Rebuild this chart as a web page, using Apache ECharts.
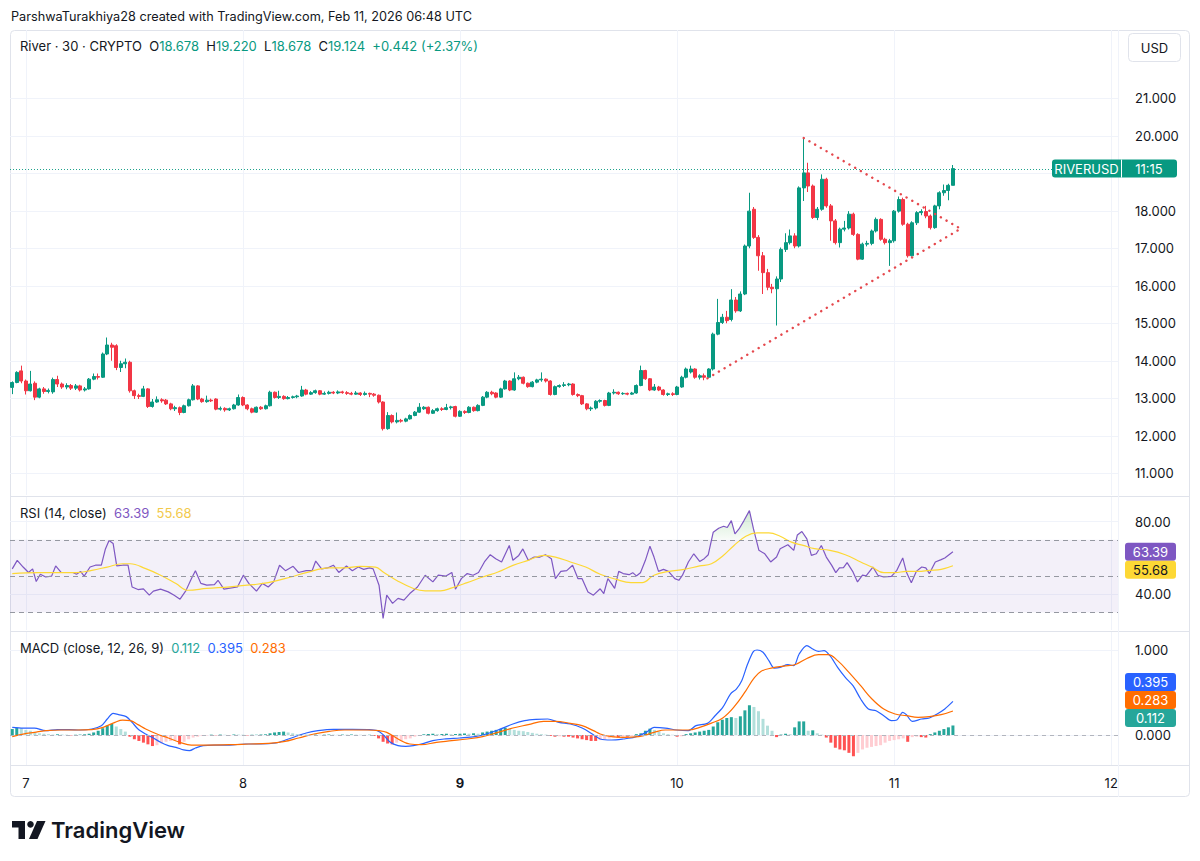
<!DOCTYPE html>
<html>
<head>
<meta charset="utf-8">
<script src="https://cdn.jsdelivr.net/npm/echarts@6/dist/echarts.min.js"></script>
<style>
html,body{margin:0;padding:0;background:#fff;}
#main{width:1200px;height:861px;}
</style>
</head>
<body>
<div id="main"></div>
<script>
// x values are 30 minute bar numbers, bar 3 = Feb 7 00:00 UTC
var dayTicks = [3, 51, 99, 147, 195, 243];
var dayLabels = ['7', '8', '9', '10', '11', '12'];
var boldDay = '9';
var priceLines = [11, 12, 13, 14, 15, 16, 17, 18, 19, 20, 21];
var priceLabels = [11, 12, 13, 14, 15, 16, 17, 18, 20, 21]; // 19 sits under the symbol tag
var rsiTicks = [40, 80];
var macdTicks = [0, 1];

// [open, close, low, high]
var candles = [
[13.29,13.42,13.11,13.45],[13.42,13.69,13.40,13.72],[13.73,13.46,13.40,13.87],[13.46,13.20,13.10,13.50],[13.20,13.38,13.18,13.73],
[13.40,13.03,12.95,13.45],[13.03,13.25,13.00,13.28],[13.25,13.18,13.12,13.30],[13.18,13.21,13.13,13.26],[13.17,13.50,13.12,13.55],
[13.50,13.38,13.30,13.60],[13.38,13.30,13.25,13.42],[13.30,13.34,13.24,13.40],[13.34,13.27,13.22,13.38],[13.27,13.33,13.22,13.38],
[13.33,13.22,13.18,13.36],[13.22,13.25,13.18,13.30],[13.25,13.51,13.23,13.54],[13.51,13.58,13.48,13.66],[13.58,13.56,13.50,13.66],
[13.56,14.18,13.54,14.22],[14.18,14.42,14.15,14.62],[14.42,14.36,14.00,14.48],[14.40,13.82,13.75,14.44],[13.82,13.92,13.70,14.00],
[13.92,13.96,13.80,14.06],[13.96,13.20,13.15,14.00],[13.20,13.07,12.98,13.23],[13.07,13.05,12.98,13.12],[13.05,13.25,13.03,13.33],
[13.25,12.78,12.74,13.27],[12.78,12.90,12.75,12.98],[12.90,12.96,12.88,13.05],[12.96,12.93,12.88,13.00],[12.95,12.85,12.82,12.98],
[12.85,12.72,12.68,12.88],[12.72,12.75,12.66,12.80],[12.75,12.62,12.55,12.78],[12.62,12.80,12.60,12.83],[12.80,12.96,12.78,12.99],
[12.96,13.33,12.94,13.38],[13.33,12.98,12.95,13.35],[12.98,12.91,12.88,13.01],[12.91,12.95,12.88,13.07],[12.95,12.93,12.90,12.99],
[12.98,12.71,12.68,13.00],[12.71,12.73,12.67,12.78],[12.73,12.69,12.64,12.76],[12.69,12.72,12.66,12.75],[12.72,12.82,12.70,12.85],
[12.82,13.02,12.80,13.10],[13.02,12.82,12.79,13.05],[12.82,12.72,12.68,12.84],[12.72,12.63,12.60,12.75],[12.63,12.76,12.61,12.78],
[12.76,12.72,12.69,12.79],[12.72,12.80,12.70,12.83],[12.80,13.16,12.78,13.20],[13.16,13.02,12.99,13.18],[13.02,13.05,12.98,13.20],
[13.05,12.99,12.96,13.08],[12.99,13.02,12.97,13.06],[13.02,13.04,12.99,13.07],[13.04,13.06,13.00,13.09],[13.06,13.22,13.04,13.33],
[13.22,13.11,13.08,13.25],[13.11,13.15,13.09,13.19],[13.15,13.20,13.12,13.23],[13.20,13.11,13.08,13.22],[13.11,13.13,13.09,13.18],
[13.13,13.16,13.10,13.20],[13.16,13.14,13.11,13.19],[13.14,13.17,13.11,13.21],[13.17,13.15,13.12,13.20],[13.15,13.13,13.09,13.19],
[13.13,13.11,13.08,13.17],[13.11,13.14,13.09,13.19],[13.14,13.10,13.06,13.16],[13.10,13.13,13.07,13.18],[13.13,13.11,13.03,13.15],
[13.11,13.08,13.04,13.14],[13.08,12.90,12.86,13.10],[12.90,12.19,12.14,12.92],[12.19,12.54,12.16,12.63],[12.54,12.37,12.33,12.57],
[12.37,12.41,12.33,12.62],[12.41,12.39,12.35,12.45],[12.39,12.45,12.36,12.48],[12.45,12.54,12.43,12.57],[12.54,12.63,12.52,12.66],
[12.63,12.76,12.61,12.87],[12.72,12.76,12.69,12.79],[12.76,12.60,12.57,12.78],[12.60,12.67,12.58,12.71],[12.67,12.72,12.64,12.75],
[12.72,12.70,12.66,12.76],[12.70,12.75,12.68,12.85],[12.75,12.77,12.70,12.80],[12.78,12.52,12.49,12.80],[12.52,12.65,12.50,12.68],
[12.65,12.62,12.58,12.68],[12.62,12.76,12.60,12.79],[12.76,12.67,12.64,12.78],[12.67,12.81,12.65,12.84],[12.81,13.03,12.79,13.06],
[13.03,13.16,13.00,13.19],[13.16,13.12,13.08,13.20],[13.14,13.03,13.00,13.16],[13.03,13.25,13.01,13.28],[13.25,13.46,13.23,13.49],
[13.46,13.22,13.19,13.48],[13.22,13.52,13.20,13.69],[13.52,13.56,13.48,13.62],[13.56,13.40,13.37,13.58],[13.40,13.31,13.28,13.42],
[13.31,13.43,13.29,13.46],[13.43,13.49,13.40,13.52],[13.49,13.51,13.44,13.69],[13.51,13.46,13.42,13.53],[13.46,13.10,13.07,13.48],
[13.10,13.31,13.08,13.34],[13.31,13.34,13.28,13.37],[13.34,13.36,13.30,13.43],[13.36,13.38,13.32,13.41],[13.38,13.10,13.07,13.40],
[13.10,13.07,13.03,13.13],[13.07,12.85,12.82,13.09],[12.85,12.72,12.68,12.87],[12.72,12.74,12.66,12.78],[12.74,12.92,12.70,12.95],
[12.92,12.94,12.88,12.97],[12.94,12.81,12.78,12.96],[12.81,13.14,12.79,13.17],[13.14,13.16,13.10,13.24],[13.16,13.12,13.09,13.18],
[13.12,13.13,13.09,13.16],[13.13,13.11,13.08,13.15],[13.11,13.14,13.09,13.17],[13.14,13.34,13.12,13.37],[13.34,13.74,13.32,13.87],
[13.74,13.52,13.49,13.76],[13.52,13.22,13.19,13.54],[13.22,13.30,13.20,13.38],[13.30,13.22,13.19,13.33],[13.22,13.10,13.07,13.24],
[13.10,13.12,13.06,13.15],[13.12,13.10,13.06,13.16],[13.10,13.30,13.08,13.33],[13.30,13.56,13.28,13.60],[13.56,13.78,13.53,13.82],
[13.70,13.78,13.66,13.87],[13.78,13.56,13.52,13.80],[13.56,13.60,13.50,13.64],[13.60,13.56,13.48,13.66],[13.56,13.78,13.54,13.80],
[13.78,14.71,13.74,14.75],[14.71,15.02,14.68,15.65],[15.02,15.16,14.98,15.25],[15.16,15.07,15.00,15.33],[15.10,15.62,15.05,15.91],
[15.62,15.33,15.28,15.70],[15.33,15.78,15.30,15.85],[15.78,17.06,15.75,17.10],[17.06,17.99,17.00,18.48],[18.04,17.29,17.25,18.10],
[17.29,16.80,16.40,17.35],[16.80,16.35,15.78,16.90],[16.35,15.96,15.88,16.45],[15.96,15.92,15.80,16.05],[15.92,16.18,14.94,16.25],
[16.18,16.97,16.10,17.02],[16.97,17.15,16.90,17.40],[17.15,17.33,17.10,17.50],[17.33,17.06,17.00,17.40],[17.06,18.61,17.02,18.65],
[18.61,19.01,18.26,19.94],[19.01,18.66,18.50,19.28],[18.66,17.82,17.78,18.70],[17.82,18.04,17.75,18.10],[18.04,18.84,18.00,18.97],
[18.84,18.13,18.08,18.88],[18.13,17.73,17.20,18.18],[17.73,17.15,17.10,17.78],[17.15,17.51,17.02,17.55],[17.51,17.54,17.45,17.73],
[17.54,17.91,17.50,17.99],[17.91,17.37,17.33,17.95],[17.37,16.71,16.68,17.40],[16.71,17.11,16.69,17.15],[17.11,17.13,17.05,17.20],
[17.13,17.46,17.08,17.50],[17.46,17.77,17.42,17.82],[17.77,17.24,17.20,17.80],[17.24,17.15,17.10,17.28],[17.15,17.20,16.53,17.25],
[17.20,17.99,17.15,18.02],[17.99,18.30,17.95,18.38],[18.30,17.64,17.60,18.35],[17.64,16.80,16.75,17.68],[16.80,17.68,16.78,17.72],
[17.68,17.95,17.62,17.99],[17.95,17.98,17.88,18.04],[17.98,17.86,17.80,18.13],[17.86,17.55,17.50,17.90],[17.55,18.13,17.52,18.16],
[18.13,18.48,18.04,18.52],[18.48,18.54,18.40,18.70],[18.54,18.678,18.28,18.72],[18.678,19.124,18.678,19.22]
];

// drawn triangle: start of upper line, apex, start of lower line
var triangle = [[175, 19.94], [209.7, 17.52], [153.7, 13.53]];

var rsi = [
[0,54],[1.1,58.7],[2.4,55],[3.6,52],[4.5,54],[5.3,47],[6.2,51],[7.4,49.5],[8.7,50],[9.6,55.6],
[10.8,52],[12.1,52],[13.4,52],[14.2,51],[15.1,52.6],[15.9,50],[17.2,55],[18.4,56],[19.7,56],[20.6,65],
[21.4,69.6],[22.3,68],[23.1,55.6],[24.4,56],[25.6,56],[26.5,44],[27.8,42.6],[29,43],[30.3,39.5],[31.2,41.7],
[32.8,42.8],[34.5,41.3],[35.8,39.5],[37.1,37.3],[38.4,42],[39.6,48.6],[40.5,53],[41.7,46],[43,45],[44.7,45.3],
[45.5,47.7],[46.8,42.8],[48.5,43.5],[49.8,44],[51.1,50.5],[52.3,46],[54,41.7],[55.3,46],[56.6,44],[57.8,46.8],
[59.1,56],[60.4,53],[62.1,55.4],[63.3,52],[65,53],[66.3,53],[67.1,58.3],[68.4,54],[69.7,54.5],[71,56],
[72.2,52],[73.9,55.6],[75.2,53],[76.5,55],[77.7,53.7],[79,54.5],[79.8,54],[81.1,45],[82,26.7],[82.8,39.5],
[84.1,35],[85.3,37.7],[86.6,36.8],[87.9,40.4],[89.6,44],[91.3,50.5],[93,46.8],[94.2,50.5],[95.9,50],[97.2,52],
[98,42.8],[99.3,48.6],[100.6,51.4],[101.9,50.5],[103.1,52],[104.4,57.8],[105.7,61.8],[106.9,59.6],[108.2,57.8],[109.9,66.9],
[110.7,58.7],[112,61.4],[112.9,65],[114.1,58.7],[115.4,60.5],[116.7,60.5],[117.9,61.8],[119.2,59.6],[120.1,48.6],[121.3,52.6],
[122.6,53],[123.9,56],[125.1,48.6],[126,48.6],[127.3,41.3],[128.5,39.5],[130,43],[130.8,40.4],[131.7,48.6],[132.5,45.9],
[133.2,43.2],[134.1,52.6],[135.1,51.4],[136.4,50.8],[137.2,51.9],[138,50.1],[138.9,51.9],[140,58.7],[141,66.5],[141.9,60.5],
[142.9,52.6],[144,53.7],[145.1,52.6],[146.5,48.6],[147.4,47.7],[148.2,50.5],[149.5,57.8],[150.7,62.3],[152,58.1],[153,59.6],
[153.9,61.8],[155,74.2],[156.2,76.4],[157.3,77.5],[158.1,76.8],[159,80.6],[159.8,73.3],[160.7,76],[161.8,80.6],[163,86.1],
[163.9,76],[165.1,64.2],[166.4,62.3],[167.7,57.8],[169,60.5],[169.8,65.1],[171.5,67.3],[172.8,64.2],[173.6,72.7],[174.6,74.6],
[175.7,70.5],[176.7,61.4],[177.8,62.3],[178.9,66.9],[180,60.5],[181.2,55.9],[182.1,51.9],[182.9,54.5],[183.8,54.7],[184.6,57.4],
[185.9,52.3],[186.9,46.8],[188,50.5],[188.8,50.1],[190.3,55],[191.4,50.5],[192.7,49.5],[194.4,49.9],[195.6,53.2],[196.9,60],
[197.7,52.3],[198.8,46.4],[199.9,52.6],[201.1,55],[202,54.5],[202.8,51.4],[204.1,57.8],[205.4,59.1],[206.2,60],[208,63.39]
];

var rsiMa = [
[0,51.4],[5.7,51.9],[14.2,51.9],[17.6,53.2],[21,55],[24.4,56.8],[26.1,56.8],[29.5,54.1],[32.8,50.5],[36.2,45.9],
[38.8,42.2],[43,43.2],[48.1,44.1],[53.2,45.3],[56.6,46.4],[61.6,49.5],[65,51.9],[70.1,54.5],[73.5,54.5],[76.9,55.4],
[80.3,55],[82,52.3],[85.3,47.2],[88.7,43.2],[91.3,41.9],[94.7,41.9],[97.2,43.5],[100.6,46.4],[104,49.5],[107.4,52.3],
[110.7,55.9],[114.1,58.7],[117.5,61.4],[120.1,60.5],[123.4,57.8],[126.8,55],[130,51],[133.4,48.3],[136.8,46.4],[139.3,46.4],
[141.9,50.5],[145.2,52.6],[148.6,53.7],[152,55.6],[154.6,56.8],[157.1,61.1],[159.6,66.9],[162.2,72],[164.7,73.8],[167.3,73.8],
[169.8,72],[172.3,68.7],[174.9,66.9],[177.4,65.1],[180.8,64.2],[184.2,61.8],[187.6,57.8],[190.1,55],[192.7,51.9],[195.2,51.9],
[197.7,52.6],[200.3,52.6],[202.8,53.2],[205.4,53.7],[208,55.68]
];

var macd = [
[0,0.09],[2.4,0.082],[4.9,0.082],[7.4,0.051],[10,0.063],[12.5,0.063],[15.1,0.059],[17.6,0.071],[19.7,0.11],[21,0.188],
[22.3,0.255],[23.5,0.239],[25.2,0.216],[26.5,0.149],[27.8,0.071],[29.5,0.012],[31.2,-0.035],[32.8,-0.086],[34.5,-0.125],[36.2,-0.145],
[37.9,-0.176],[39.2,-0.184],[40.5,-0.153],[42.2,-0.125],[44.7,-0.118],[48.1,-0.118],[51.5,-0.106],[54.9,-0.106],[58.3,-0.094],[60,-0.067],
[62.5,-0.02],[65,0.024],[67.6,0.051],[71,0.067],[75.2,0.067],[78.6,0.063],[80.7,0.051],[82,0.004],[83.6,-0.086],[85.3,-0.125],
[87,-0.133],[88.7,-0.125],[90.4,-0.106],[93,-0.067],[95.5,-0.047],[98.9,-0.035],[102.3,-0.02],[104.8,0.012],[107.4,0.059],[110.7,0.129],
[113.3,0.169],[115.8,0.184],[118.4,0.188],[120.9,0.149],[123.4,0.129],[126,0.082],[128.5,0.004],[130,-0.047],[132.5,-0.059],[135.1,-0.047],
[137.6,-0.027],[140.2,0.031],[141.9,0.09],[144.4,0.082],[146.9,0.059],[149.5,0.051],[151.2,0.11],[153.7,0.137],[155.4,0.227],[157.1,0.325],
[158.8,0.482],[160.1,0.541],[161.3,0.639],[162.6,0.835],[163.9,0.984],[164.7,1.0],[166,0.973],[167.3,0.875],[168.5,0.788],[169.8,0.796],
[171.5,0.827],[172.8,0.816],[174,0.953],[175.7,1.051],[177,1.012],[178.3,0.984],[179.5,0.992],[180.8,0.933],[182.5,0.796],[184.2,0.678],
[185.9,0.58],[187.6,0.424],[189.3,0.306],[191,0.286],[192.7,0.227],[194.4,0.169],[195.6,0.176],[196.9,0.267],[197.7,0.239],[199,0.161],
[201.1,0.188],[202.8,0.2],[204.5,0.247],[206.2,0.306],[208,0.395]
];

var signal = [
[0,-0.02],[2.4,0.01],[4.9,0.031],[7.4,0.051],[10.8,0.059],[14.2,0.059],[17.6,0.063],[20.1,0.09],[22.7,0.149],[24.4,0.176],
[26.1,0.169],[27.8,0.122],[29.5,0.071],[32,0.012],[34.5,-0.035],[37.1,-0.086],[39.6,-0.118],[43,-0.118],[48.1,-0.114],[52.3,-0.106],
[56.6,-0.098],[60,-0.078],[63.3,-0.035],[66.7,0.012],[70.1,0.043],[73.5,0.059],[78.6,0.059],[81.1,0.051],[82.8,0.031],[85.3,-0.047],
[87.9,-0.106],[90.4,-0.114],[93.8,-0.086],[97.2,-0.067],[100.6,-0.047],[104,-0.02],[107.4,0.031],[110.7,0.082],[114.1,0.122],[117.5,0.161],
[120.1,0.161],[123.4,0.137],[126,0.11],[128.5,0.051],[130,0.012],[132.5,-0.02],[135.1,-0.027],[138.5,-0.02],[141.9,0.031],[144.4,0.059],
[146.9,0.059],[149.5,0.059],[152,0.09],[154.6,0.14],[157.1,0.2],[159.6,0.33],[162.2,0.52],[163.9,0.66],[165.6,0.75],[168.1,0.79],
[170.6,0.81],[173.2,0.83],[175.7,0.9],[178.3,0.945],[180.4,0.945],[182.5,0.875],[185,0.737],[187.6,0.58],[190.1,0.424],[192.7,0.306],
[195.2,0.247],[197.7,0.227],[200.3,0.208],[202.8,0.216],[205.4,0.239],[208,0.283]
];

var hist = [
0.07,0.085,0.08,0.06,0.05,0.03,0.02,0.015,0.01,0.005,
0.008,0.006,0.004,-0.004,0.003,0.005,0.008,0.015,0.03,0.05,
0.08,0.11,0.13,0.1,0.07,0.04,-0.02,-0.05,-0.07,-0.09,
-0.11,-0.13,-0.12,-0.1,-0.08,-0.07,-0.06,-0.11,-0.08,-0.05,
-0.03,-0.02,-0.01,-0.005,0.004,-0.003,0.005,0.003,-0.004,0.006,
0.005,0.004,-0.004,0.003,0.004,0.006,0.008,0.02,0.03,0.035,
0.04,0.03,0.02,0.01,0.008,0.006,0.004,0.005,0.003,0.004,
0.006,0.004,0.003,0.005,0.004,0.006,0.004,0.003,0.002,0.003,
-0.01,-0.04,-0.08,-0.1,-0.11,-0.09,-0.07,-0.05,-0.04,-0.02,
-0.01,0.008,0.012,0.015,0.01,0.012,0.015,0.01,0.012,0.015,
0.018,0.015,0.02,0.015,0.03,0.04,0.05,0.06,0.07,0.085,
0.075,0.06,0.05,0.045,0.035,0.025,0.015,0.01,0.005,-0.01,
-0.02,-0.015,-0.02,-0.02,-0.03,-0.04,-0.05,-0.06,-0.07,-0.07,
-0.06,-0.05,-0.04,-0.03,-0.03,-0.02,-0.02,-0.01,0.01,0.02,
0.05,0.075,0.06,0.04,0.02,0.01,0.003,-0.02,-0.015,0.01,
0.02,0.03,0.04,0.05,0.06,0.1,0.15,0.18,0.2,0.21,
0.2,0.22,0.29,0.35,0.33,0.28,0.19,0.11,0.05,-0.025,
0.005,0.015,0.01,0.09,0.16,0.16,0.05,0.055,0.02,0.004,
-0.03,-0.09,-0.15,-0.17,-0.18,-0.21,-0.25,-0.21,-0.17,-0.15,
-0.14,-0.13,-0.12,-0.09,-0.07,-0.06,-0.05,-0.04,-0.08,-0.025,
-0.02,-0.025,-0.03,0.01,0.03,0.05,0.07,0.09,0.112
];

var last = {close: 19.124, rsi: 63.39, rsiMa: 55.68, hist: 0.112, macd: 0.395, signal: 0.283};

var FONT = 'Inter, "Noto Sans", sans-serif';
var TXT = '#131722';
var UP = '#089981', DOWN = '#f23645';
var RSI_C = '#7e57c2', MA_C = '#fdd835', MACD_C = '#2962ff', SIG_C = '#ff6d00', HIST_C = '#26a69a';

var chart = echarts.init(document.getElementById('main'), null, {renderer: 'svg'});

function xAxisFor(g) {
  return {
    type: 'value', gridIndex: g, min: -0.5, max: 244.5,
    axisLine: {show: false},
    axisTick: {show: false, customValues: dayTicks},
    axisLabel: {
      show: g === 2, customValues: dayTicks, margin: 11,
      color: TXT, fontSize: 13, fontFamily: FONT,
      formatter: function (v) {
        var lbl = dayLabels[dayTicks.indexOf(Math.round(v))];
        return lbl === boldDay ? '{b|' + lbl + '}' : lbl;
      },
      rich: {b: {fontWeight: 'bold', fontSize: 13, color: TXT, fontFamily: FONT}}
    },
    splitLine: {show: true, lineStyle: {color: '#f0f3fa'}}
  };
}

function yAxisFor(g, min, max, lines, labels, digits) {
  return {
    type: 'value', gridIndex: g, position: 'right', min: min, max: max,
    axisLine: {show: false},
    axisTick: {show: false, customValues: lines},
    axisLabel: {
      customValues: labels, margin: 17, color: TXT, fontSize: 13, fontFamily: FONT,
      formatter: function (v) { return v.toFixed(digits); }
    },
    splitLine: {show: true, lineStyle: {color: '#f0f3fa'}}
  };
}

function legend(top, text, rich) {
  var base = {fontSize: 13, fontFamily: FONT};
  Object.keys(rich).forEach(function (k) { rich[k] = Object.assign({}, base, rich[k]); });
  return {left: 20, top: top, padding: 0, text: text,
    textStyle: {fontSize: 13, fontWeight: 'normal', fontFamily: FONT, color: TXT, rich: rich}};
}

var priceData = candles.map(function (c, i) { return [i, c[0], c[1], c[2], c[3]]; });
var histData = hist.map(function (v, i) { return [i, v]; });

var option = {
  animation: false,
  backgroundColor: '#fff',
  title: [
    {left: 11, top: 10, padding: 0, text: 'ParshwaTurakhiya28 created with TradingView.com, Feb 11, 2026 06:48 UTC',
      textStyle: {fontSize: 12.7, fontWeight: 'normal', fontFamily: FONT, color: TXT}},
    legend(39, '{t|River · 30 · CRYPTO}  {t|O}{g|18.678}  {t|H}{g|19.220}  {t|L}{g|18.678}  {t|C}{g|19.124}  {g|+0.442 (+2.37%)}',
      {t: {color: TXT}, g: {color: UP}}),
    legend(506, '{t|RSI (14, close)}  {p|63.39}  {y|55.68}',
      {t: {color: TXT}, p: {color: RSI_C}, y: {color: '#f2c94c'}}),
    legend(641, '{t|MACD (close, 12, 26, 9)}  {h|0.112}  {m|0.395}  {s|0.283}',
      {t: {color: TXT}, h: {color: HIST_C}, m: {color: MACD_C}, s: {color: SIG_C}})
  ],
  grid: [
    {left: 10, right: 82, top: 30, height: 465},
    {left: 10, right: 82, top: 497, height: 133},
    {left: 10, right: 82, top: 632, height: 133}
  ],
  xAxis: [xAxisFor(0), xAxisFor(1), xAxisFor(2)],
  yAxis: [
    yAxisFor(0, 10.42, 22.82, priceLines, priceLabels, 3),
    yAxisFor(1, 20.3, 93.6, rsiTicks, rsiTicks, 2),
    yAxisFor(2, -0.353, 1.212, macdTicks, macdTicks, 3)
  ],
  series: [
    {
      type: 'candlestick', xAxisIndex: 0, yAxisIndex: 0, data: priceData, barWidth: 3.5,
      itemStyle: {color: UP, color0: DOWN, borderColor: UP, borderColor0: DOWN, borderWidth: 1},
      markLine: {
        silent: true, symbol: 'none', label: {show: false},
        lineStyle: {color: UP, type: [1, 2], width: 1, opacity: 0.9},
        data: [{yAxis: last.close}]
      }
    },
    {
      type: 'line', xAxisIndex: 0, yAxisIndex: 0, data: triangle, showSymbol: false, z: 5,
      lineStyle: {color: '#e5484d', width: 2.4, type: [0.1, 6.5], cap: 'round'}
    },
    {
      id: 'rsi', type: 'line', xAxisIndex: 1, yAxisIndex: 1, data: rsi, showSymbol: false,
      lineStyle: {color: RSI_C, width: 1.2},
      markArea: {silent: true, itemStyle: {color: 'rgba(126,87,194,0.09)'}, data: [[{yAxis: 30}, {yAxis: 70}]]},
      markLine: {
        silent: true, symbol: 'none', label: {show: false},
        lineStyle: {color: '#9598a1', type: [5, 4], width: 1},
        data: [{yAxis: 70}, {yAxis: 50}, {yAxis: 30}]
      }
    },
    {
      type: 'line', xAxisIndex: 1, yAxisIndex: 1, data: rsiMa, showSymbol: false, smooth: 0.4,
      lineStyle: {color: MA_C, width: 1.2}
    },
    {
      type: 'bar', xAxisIndex: 2, yAxisIndex: 2, data: histData, barWidth: 3,
      itemStyle: {
        color: function (p) {
          var v = hist[p.dataIndex];
          var prev = p.dataIndex > 0 ? hist[p.dataIndex - 1] : v;
          if (v >= 0) return v >= prev ? '#26a69a' : '#b2dfdb';
          return v <= prev ? '#ff5252' : '#ffcdd2';
        }
      }
    },
    {
      type: 'line', xAxisIndex: 2, yAxisIndex: 2, data: macd, showSymbol: false, smooth: 0.3,
      lineStyle: {color: MACD_C, width: 1.2},
      markLine: {
        silent: true, symbol: 'none', label: {show: false},
        lineStyle: {color: '#b2b5be', type: [4, 4], width: 1},
        data: [{yAxis: 0}]
      }
    },
    {
      type: 'line', xAxisIndex: 2, yAxisIndex: 2, data: signal, showSymbol: false, smooth: 0.4,
      lineStyle: {color: SIG_C, width: 1.2}
    }
  ]
};

chart.setOption(option);

// second pass: things that need pixel positions from the axes
function py(axis, v) { return chart.convertToPixel({yAxisIndex: axis}, v); }

var y70 = py(1, 70), yTop = py(1, 90);
chart.setOption({series: [{id: 'rsi', areaStyle: {
  origin: 70,
  color: {type: 'linear', x: 0, y: yTop, x2: 0, y2: y70, global: true, colorStops: [
    {offset: 0, color: 'rgba(76,175,80,0.45)'},
    {offset: 0.99, color: 'rgba(76,175,80,0.06)'},
    {offset: 1, color: 'rgba(76,175,80,0)'}
  ]}
}}]});

function stack(items, anchor) {
  for (var i = anchor - 1; i >= 0; i--) items[i].y = Math.min(items[i].y, items[i + 1].y - 18);
  for (var j = anchor + 1; j < items.length; j++) items[j].y = Math.max(items[j].y, items[j - 1].y + 18);
  return items;
}

function txt(x, y, s, fill, font, align) {
  return {type: 'text', z: 101, x: x, y: y, style: {text: s, fill: fill, font: font || ('13px ' + FONT), align: align || 'center', verticalAlign: 'middle'}};
}

function valueBox(item) {
  return [
    {type: 'rect', z: 100, shape: {x: 1125, y: item.y - 9, width: 51, height: 18, r: 3}, style: {fill: item.bg}},
    txt(1150.5, item.y, item.text, item.fg)
  ];
}

var rsiBoxes = stack([
  {y: py(1, last.rsi), text: last.rsi.toFixed(2), bg: RSI_C, fg: '#fff'},
  {y: py(1, last.rsiMa), text: last.rsiMa.toFixed(2), bg: MA_C, fg: TXT}
], 0);
// keep the lowest MACD tag clear of the 0.000 axis label
var zeroLabelTop = py(2, 0) - 7;
var macdBoxes = stack([
  {y: py(2, last.macd), text: last.macd.toFixed(3), bg: MACD_C, fg: '#fff'},
  {y: py(2, last.signal), text: last.signal.toFixed(3), bg: SIG_C, fg: '#fff'},
  {y: Math.min(py(2, last.hist), zeroLabelTop - 10), text: last.hist.toFixed(3), bg: HIST_C, fg: '#fff'}
], 2);

var yc = py(0, last.close);
var graphics = [
  {type: 'rect', z: -1, shape: {x: 10.5, y: 30.5, width: 1179, height: 766, r: 4}, style: {fill: 'none', stroke: '#e0e3eb'}},
  {type: 'line', z: -1, shape: {x1: 10, y1: 496.5, x2: 1190, y2: 496.5}, style: {stroke: '#e0e3eb'}},
  {type: 'line', z: -1, shape: {x1: 10, y1: 631.5, x2: 1190, y2: 631.5}, style: {stroke: '#e0e3eb'}},
  {type: 'line', z: -1, shape: {x1: 10, y1: 765.5, x2: 1190, y2: 765.5}, style: {stroke: '#e0e3eb'}},
  {type: 'line', z: -1, shape: {x1: 1118.5, y1: 30, x2: 1118.5, y2: 797}, style: {stroke: '#f0f3fa'}},
  {type: 'rect', z: 100, shape: {x: 1128.5, y: 33.5, width: 52, height: 28, r: 4}, style: {fill: '#fff', stroke: '#e0e3eb'}},
  txt(1154.5, 47.5, 'USD', TXT),
  {type: 'rect', z: 100, shape: {x: 1052, y: yc - 9, width: 125, height: 18, r: 3}, style: {fill: UP}},
  {type: 'line', z: 101, shape: {x1: 1121.5, y1: yc - 9, x2: 1121.5, y2: yc + 9}, style: {stroke: '#fff', lineWidth: 1}},
  txt(1086.5, yc, 'RIVERUSD', '#fff'),
  txt(1149, yc, '11:15', '#fff'),
  {type: 'rect', z: 100, shape: {x: 12, y: 821, width: 13, height: 6.5}, style: {fill: TXT}},
  {type: 'rect', z: 100, shape: {x: 18.5, y: 821, width: 6.5, height: 18}, style: {fill: TXT}},
  {type: 'circle', z: 100, shape: {cx: 30.5, cy: 824.3, r: 3.3}, style: {fill: TXT}},
  {type: 'polygon', z: 100, shape: {points: [[37, 821], [45.5, 821], [37.5, 839], [29, 839]]}, style: {fill: TXT}},
  txt(51, 830, 'TradingView', TXT, '600 22px ' + FONT, 'left')
];
rsiBoxes.concat(macdBoxes).forEach(function (b) { graphics = graphics.concat(valueBox(b)); });

chart.setOption({graphic: graphics});
</script>
</body>
</html>
